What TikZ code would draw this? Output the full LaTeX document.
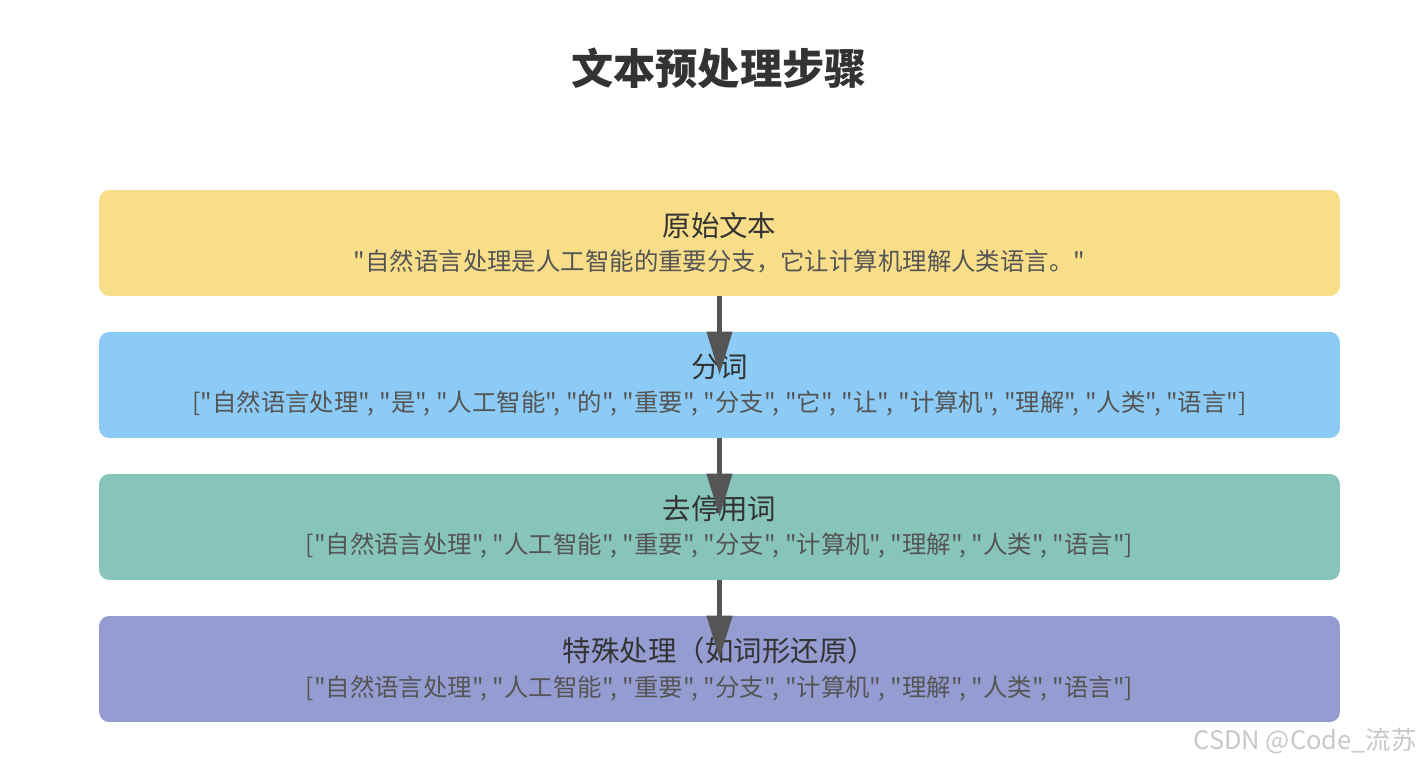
\documentclass[tikz,border=0pt]{standalone}
\usepackage{fontspec}
\newfontfamily\cjk{Noto Sans CJK SC}
\usepackage{tikz}
\usetikzlibrary{arrows.meta}

\definecolor{rawfill}{HTML}{F8DE88}
\definecolor{tokfill}{HTML}{8BCBF5}
\definecolor{stopfill}{HTML}{87C4BA}
\definecolor{lemfill}{HTML}{959CD1}
\definecolor{headgray}{HTML}{333333}
\definecolor{subgray}{HTML}{555555}
\definecolor{markgray}{HTML}{C8C8C8}

\newcommand{\stephead}[1]{{\fontsize{16.2}{19}\selectfont\color{headgray}#1}}
\newcommand{\stepsub}[1]{{\fontsize{13.9}{16}\selectfont\color{subgray}#1}}

\tikzset{
  every node/.style={font=\cjk},
  stepbox/.style={rounded corners=0.2cm,minimum width=24.82cm,minimum height=2.12cm,
    align=center,inner sep=0pt},
  flow/.style={draw=subgray,line width=2.3pt,-{Triangle[length=0.86cm,width=0.5cm]}}
}

\begin{document}
\begin{tikzpicture}[x=0.02cm,y=-0.02cm]
\useasboundingbox (0,0) rectangle (1426,767);
% ---- 标题 ----
\node[font=\cjk\fontsize{24}{28}\selectfont\bfseries,text=headgray] (title) at (719,68) {文本预处理步骤};
% ---- 四个步骤 ----
\node[stepbox,fill=rawfill] (raw) at (719.5,243) {\stephead{原始文本}\\[5.5pt]\stepsub{"自然语言处理是人工智能的重要分支，它让计算机理解人类语言。"}};
\node[stepbox,fill=tokfill] (tok) at (719.5,385) {\stephead{分词}\\[5.5pt]\stepsub{["自然语言处理", "是", "人工智能", "的", "重要", "分支", "它", "让", "计算机", "理解", "人类", "语言"]}};
\node[stepbox,fill=stopfill] (stop) at (719.5,527) {\stephead{去停用词}\\[5.5pt]\stepsub{["自然语言处理", "人工智能", "重要", "分支", "计算机", "理解", "人类", "语言"]}};
\node[stepbox,fill=lemfill] (lem) at (719.5,669) {\stephead{特殊处理（如词形还原）}\\[5.5pt]\stepsub{["自然语言处理", "人工智能", "重要", "分支", "计算机", "理解", "人类", "语言"]}};
% ---- 箭头 ----
\draw[flow] (raw.south) -- ([yshift=-0.86cm]tok.north);
\draw[flow] (tok.south) -- ([yshift=-0.86cm]stop.north);
\draw[flow] (stop.south) -- ([yshift=-0.86cm]lem.north);
% ---- 水印 ----
\node[font=\cjk\fontsize{14.5}{17}\selectfont,text=markgray,anchor=east] (mark) at (1423,741) {CSDN @Code\_流苏};
\end{tikzpicture}
\end{document}
